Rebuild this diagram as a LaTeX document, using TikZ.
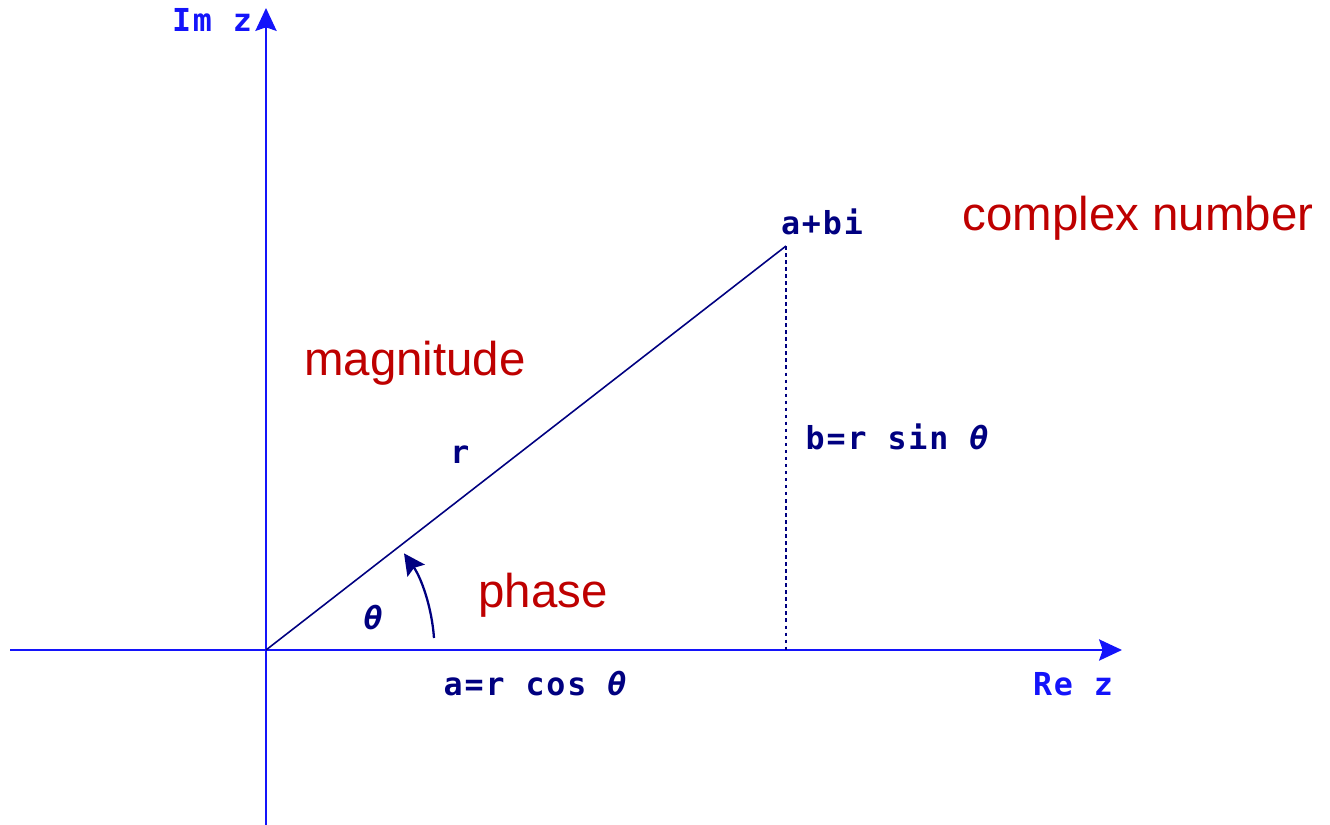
\documentclass[tikz,border=0pt]{standalone}
\usepackage{fontspec}
\setmainfont{Liberation Sans}
\newfontfamily\pixfont[LetterSpace=6]{DejaVu Sans Mono}
\usetikzlibrary{arrows.meta}
\definecolor{axisblue}{RGB}{20,20,250}
\definecolor{navy}{RGB}{0,0,128}
\definecolor{darkred}{RGB}{190,0,0}
\begin{document}
\begin{tikzpicture}[x=0.02cm, y=-0.02cm,
    axis/.style={-{Stealth[length=13pt, width=12pt, inset=2pt]}, axisblue, line width=1.5pt},
    lbl/.style={font=\pixfont\bfseries\fontsize{18}{20}\selectfont, text=navy, inner sep=0pt},
    axlbl/.style={font=\pixfont\bfseries\fontsize{18}{20}\selectfont, text=axisblue, inner sep=0pt},
    note/.style={font=\fontsize{27}{30}\selectfont, text=darkred, inner sep=0pt},
    arc/.style={-{Stealth[length=12pt, width=12pt, inset=2pt]}, navy, line width=1.3pt}
]
\useasboundingbox (0,0) rectangle (1330,825);

% axes
\coordinate (o) at (266,650);
\coordinate (xl) at (10,650);
\coordinate (xr) at (1122,650);
\coordinate (yb) at (266,825);
\coordinate (yt) at (266,8);
\draw[axis] (xl) -- (xr);
\draw[axis] (yb) -- (yt);

% point and sides
\coordinate (p) at (786,246);
\coordinate (pa) at (786,650);
\draw[navy, line width=0.9pt] (o) -- (p);
\draw[navy, line width=1pt, dash pattern=on 2pt off 2pt] (p) -- (pa);

% angle arrow
\coordinate (ph) at (434,638);
\draw[arc] (ph) arc[start angle=-4, end angle=-35, radius=168];

% labels
\node[axlbl] (im) at (212,20) {Im z};
\node[axlbl] (re) at (1073,684) {Re z};
\node[lbl] (abi) at (822,222) {a+bi};
\node[lbl] (r) at (460,455) {r};
\node[lbl] (bs) at (898,437) {b=r sin \textit{θ}};
\node[lbl] (th) at (374,618) {\textit{θ}};
\node[lbl] (ac) at (536,684) {a=r cos \textit{θ}};
\node[note] (cn) at (1138,218) {complex number};
\node[note] (mg) at (415,363) {magnitude};
\node[note] (phs) at (543,595) {phase};
\end{tikzpicture}
\end{document}
